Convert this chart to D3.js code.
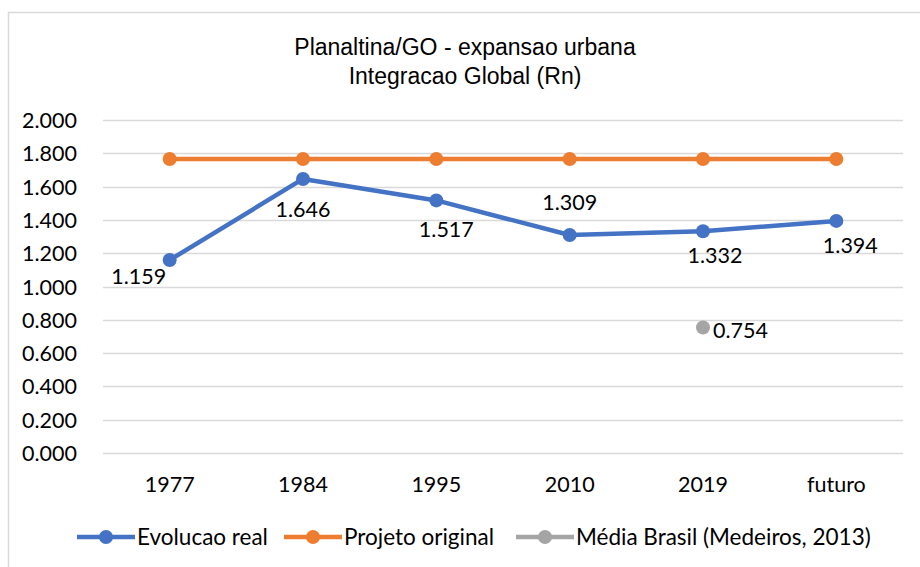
<!DOCTYPE html>
<html>
<head>
<meta charset="utf-8">
<title>Planaltina/GO - expansao urbana</title>
<script src="https://d3js.org/d3.v7.min.js"></script>
<style>
  body { margin: 0; background: #fff; }
  text { font-family: Lato, "Open Sans", sans-serif; fill: #000; }
  .title { font-family: "Liberation Sans", Arial, sans-serif; font-size: 23px; }
</style>
</head>
<body>
<div id="chart"></div>
<script>
// data
const categories = ["1977", "1984", "1995", "2010", "2019", "futuro"];
const evolucaoReal = [1.159, 1.646, 1.517, 1.309, 1.332, 1.394];
const projetoOriginal = [1.766, 1.766, 1.766, 1.766, 1.766, 1.766];
const mediaBrasil = [null, null, null, null, 0.754, null];
const yTicks = [0, 0.2, 0.4, 0.6, 0.8, 1.0, 1.2, 1.4, 1.6, 1.8, 2.0];
const seriesNames = ["Evolucao real", "Projeto original", "Média Brasil (Medeiros, 2013)"];

// label placement (offset from point, px)
const blueLabelOffsets = [[-31, 16], [0, 31], [10, 29], [0, -33], [12, 24], [14, 25]];

const W = 920, H = 567;
const margin = { top: 120, right: 17, bottom: 114, left: 103 };
const width = W - margin.left - margin.right;
const height = H - margin.top - margin.bottom;
const colors = ["#4472C4", "#ED7D31", "#A5A5A5"];
const numSize = "21.5px";

const svg = d3.select("#chart").append("svg").attr("width", W).attr("height", H);

// outer frame
svg.append("rect")
  .attr("x", 8.5).attr("y", 12.5).attr("width", W).attr("height", H)
  .attr("fill", "#fff").attr("stroke", "#d9d9d9").attr("stroke-width", 1.5);

svg.append("text").attr("class", "title").attr("x", 465).attr("y", 55)
  .attr("text-anchor", "middle").text("Planaltina/GO - expansao urbana");
svg.append("text").attr("class", "title").attr("x", 465).attr("y", 84)
  .attr("text-anchor", "middle").text("Integracao Global (Rn)");

const g = svg.append("g").attr("transform", `translate(${margin.left},${margin.top})`);

const x = d3.scaleBand().domain(categories).range([0, width]);
const y = d3.scaleLinear().domain([0, 2]).range([height, 0]);
const fmt = d3.format(".3f");

// gridlines
g.append("g").selectAll("line").data(yTicks).join("line")
  .attr("x1", 0).attr("x2", width)
  .attr("y1", d => Math.round(y(d)) + 0.5).attr("y2", d => Math.round(y(d)) + 0.5)
  .attr("stroke", "#d9d9d9").attr("stroke-width", 1.5);

// y axis
const yAxis = g.append("g").attr("transform", "translate(-23,0)")
  .call(d3.axisLeft(y).tickValues(yTicks).tickFormat(fmt).tickSize(0));
yAxis.select(".domain").remove();
yAxis.selectAll("text").style("font-size", numSize).attr("dy", "0.35em");

// x axis
const xAxis = g.append("g").attr("transform", `translate(0,${height + 21})`)
  .call(d3.axisBottom(x).tickSize(0));
xAxis.select(".domain").remove();
xAxis.selectAll("text").style("font-size", numSize).attr("dy", "0.71em");

const cx = d => x(d) + x.bandwidth() / 2;

function drawSeries(values, color) {
  const pts = categories.map((c, i) => ({ c, v: values[i] })).filter(d => d.v != null);
  const line = d3.line().x(d => cx(d.c)).y(d => y(d.v));
  if (pts.length > 1) {
    g.append("path").datum(pts).attr("d", line)
      .attr("fill", "none").attr("stroke", color).attr("stroke-width", 4.5)
      .attr("stroke-linejoin", "round");
  }
  g.append("g").selectAll("circle").data(pts).join("circle")
    .attr("cx", d => cx(d.c)).attr("cy", d => y(d.v)).attr("r", 7)
    .attr("fill", color);
  return pts;
}

drawSeries(projetoOriginal, colors[1]);
const bluePts = drawSeries(evolucaoReal, colors[0]);
const grayPts = drawSeries(mediaBrasil, colors[2]);

// data labels
g.append("g").selectAll("text").data(bluePts).join("text")
  .attr("x", (d, i) => cx(d.c) + blueLabelOffsets[i][0])
  .attr("y", (d, i) => y(d.v) + blueLabelOffsets[i][1])
  .attr("dy", "0.35em").attr("text-anchor", "middle")
  .style("font-size", numSize).text(d => fmt(d.v));

g.append("g").selectAll("text").data(grayPts).join("text")
  .attr("x", d => cx(d.c) + 10).attr("y", d => y(d.v) + 3)
  .attr("dy", "0.35em").style("font-size", numSize).text(d => fmt(d.v));

// legend
const legendX = [77, 284, 516];
const legend = svg.append("g").attr("transform", "translate(0,537)");
seriesNames.forEach((name, i) => {
  const lg = legend.append("g").attr("transform", `translate(${legendX[i]},0)`);
  lg.append("line").attr("x1", 0).attr("x2", 58).attr("y1", 0).attr("y2", 0)
    .attr("stroke", colors[i]).attr("stroke-width", 4.5);
  lg.append("circle").attr("cx", 29).attr("cy", 0).attr("r", 7).attr("fill", colors[i]);
  lg.append("text").attr("x", 60).attr("dy", "0.35em").style("font-size", "22.5px").text(name);
});
</script>
</body>
</html>
